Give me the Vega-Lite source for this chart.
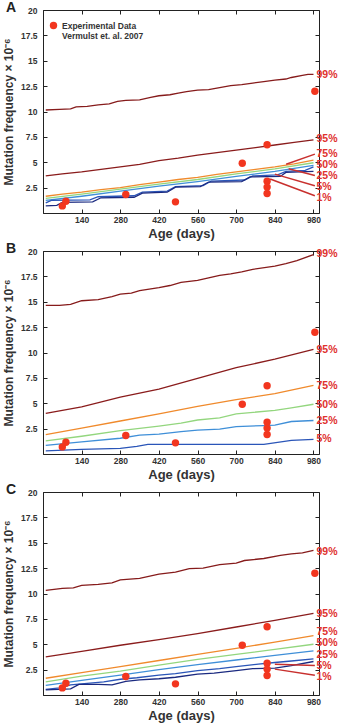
{
  "$schema": "https://vega.github.io/schema/vega-lite/v6.json",
  "background": "white",
  "padding": {"left": 1, "top": 0, "right": 0, "bottom": 0},
  "spacing": 0,
  "config": {
    "font": "Liberation Sans",
    "view": {"stroke": "#222", "strokeWidth": 1},
    "axis": {
      "grid": false,
      "labelFont": "Liberation Sans",
      "labelFontWeight": "bold",
      "labelFontSize": 8.5,
      "labelColor": "#333",
      "labelOverlap": false,
      "titleFont": "Liberation Sans",
      "titleFontWeight": "bold",
      "titleColor": "#333",
      "domainColor": "#222",
      "tickColor": "#222",
      "tickSize": -4
    },
    "axisX": {"labelPadding": 6, "titlePadding": 4},
    "axisY": {"labelPadding": 10, "titlePadding": 5},
    "legend": {"labelFont": "Liberation Sans"},
    "title": {"font": "Liberation Sans", "fontSize": 14, "fontWeight": "bold", "color": "#222"}
  },
  "datasets": {
    "points": [
      {"age": 70, "value": 0.7, "source": "Experimental Data"},
      {"age": 83, "value": 1.15, "source": "Experimental Data"},
      {"age": 300, "value": 1.82, "source": "Experimental Data"},
      {"age": 480, "value": 1.1, "source": "Experimental Data"},
      {"age": 722, "value": 4.9, "source": "Experimental Data"},
      {"age": 812, "value": 6.72, "source": "Experimental Data"},
      {"age": 812, "value": 3.12, "source": "Experimental Data"},
      {"age": 812, "value": 2.55, "source": "Experimental Data"},
      {"age": 812, "value": 1.92, "source": "Experimental Data"},
      {"age": 985, "value": 12.0, "source": "Experimental Data"}
    ],
    "linesA": [
      {"series": "99%", "age": 10, "value": 10.15}, {"series": "99%", "age": 60, "value": 10.2}, {"series": "99%", "age": 100, "value": 10.25}, {"series": "99%", "age": 120, "value": 10.45}, {"series": "99%", "age": 160, "value": 10.5}, {"series": "99%", "age": 200, "value": 10.65}, {"series": "99%", "age": 240, "value": 10.75}, {"series": "99%", "age": 270, "value": 11.0}, {"series": "99%", "age": 300, "value": 11.1}, {"series": "99%", "age": 350, "value": 11.15}, {"series": "99%", "age": 390, "value": 11.4}, {"series": "99%", "age": 420, "value": 11.55}, {"series": "99%", "age": 460, "value": 11.65}, {"series": "99%", "age": 490, "value": 11.8}, {"series": "99%", "age": 520, "value": 11.95}, {"series": "99%", "age": 560, "value": 12.1}, {"series": "99%", "age": 600, "value": 12.15}, {"series": "99%", "age": 640, "value": 12.35}, {"series": "99%", "age": 680, "value": 12.55}, {"series": "99%", "age": 720, "value": 12.65}, {"series": "99%", "age": 760, "value": 12.8}, {"series": "99%", "age": 800, "value": 12.95}, {"series": "99%", "age": 840, "value": 13.1}, {"series": "99%", "age": 880, "value": 13.2}, {"series": "99%", "age": 900, "value": 13.35}, {"series": "99%", "age": 940, "value": 13.55}, {"series": "99%", "age": 960, "value": 13.65}, {"series": "99%", "age": 980, "value": 13.65},
      {"series": "95%", "age": 10, "value": 3.65}, {"series": "95%", "age": 70, "value": 3.85}, {"series": "95%", "age": 140, "value": 4.05}, {"series": "95%", "age": 210, "value": 4.3}, {"series": "95%", "age": 280, "value": 4.55}, {"series": "95%", "age": 350, "value": 4.8}, {"series": "95%", "age": 420, "value": 5.15}, {"series": "95%", "age": 490, "value": 5.4}, {"series": "95%", "age": 560, "value": 5.7}, {"series": "95%", "age": 630, "value": 5.95}, {"series": "95%", "age": 700, "value": 6.2}, {"series": "95%", "age": 770, "value": 6.45}, {"series": "95%", "age": 840, "value": 6.7}, {"series": "95%", "age": 910, "value": 6.95}, {"series": "95%", "age": 980, "value": 7.2},
      {"series": "75%", "age": 10, "value": 1.65}, {"series": "75%", "age": 70, "value": 1.85}, {"series": "75%", "age": 140, "value": 2.05}, {"series": "75%", "age": 210, "value": 2.3}, {"series": "75%", "age": 280, "value": 2.5}, {"series": "75%", "age": 350, "value": 2.8}, {"series": "75%", "age": 420, "value": 3.05}, {"series": "75%", "age": 490, "value": 3.3}, {"series": "75%", "age": 560, "value": 3.5}, {"series": "75%", "age": 630, "value": 3.8}, {"series": "75%", "age": 700, "value": 4.05}, {"series": "75%", "age": 770, "value": 4.3}, {"series": "75%", "age": 840, "value": 4.55}, {"series": "75%", "age": 910, "value": 4.85}, {"series": "75%", "age": 980, "value": 5.2},
      {"series": "50%", "age": 10, "value": 1.45}, {"series": "50%", "age": 140, "value": 1.85}, {"series": "50%", "age": 280, "value": 2.35}, {"series": "50%", "age": 420, "value": 2.85}, {"series": "50%", "age": 560, "value": 3.3}, {"series": "50%", "age": 700, "value": 3.85}, {"series": "50%", "age": 840, "value": 4.35}, {"series": "50%", "age": 980, "value": 4.95},
      {"series": "25%", "age": 10, "value": 1.25}, {"series": "25%", "age": 140, "value": 1.65}, {"series": "25%", "age": 280, "value": 2.15}, {"series": "25%", "age": 420, "value": 2.65}, {"series": "25%", "age": 560, "value": 3.1}, {"series": "25%", "age": 700, "value": 3.6}, {"series": "25%", "age": 840, "value": 4.1}, {"series": "25%", "age": 980, "value": 4.7},
      {"series": "5%", "age": 10, "value": 1.0}, {"series": "5%", "age": 30, "value": 1.25}, {"series": "5%", "age": 170, "value": 1.3}, {"series": "5%", "age": 200, "value": 1.6}, {"series": "5%", "age": 330, "value": 1.7}, {"series": "5%", "age": 360, "value": 2.05}, {"series": "5%", "age": 450, "value": 2.15}, {"series": "5%", "age": 480, "value": 2.6}, {"series": "5%", "age": 580, "value": 2.7}, {"series": "5%", "age": 610, "value": 3.15}, {"series": "5%", "age": 730, "value": 3.25}, {"series": "5%", "age": 760, "value": 3.65}, {"series": "5%", "age": 850, "value": 3.75}, {"series": "5%", "age": 880, "value": 4.1}, {"series": "5%", "age": 950, "value": 4.2}, {"series": "5%", "age": 980, "value": 4.55},
      {"series": "1%", "age": 10, "value": 0.7}, {"series": "1%", "age": 50, "value": 0.75}, {"series": "1%", "age": 70, "value": 1.05}, {"series": "1%", "age": 180, "value": 1.1}, {"series": "1%", "age": 210, "value": 1.5}, {"series": "1%", "age": 330, "value": 1.55}, {"series": "1%", "age": 360, "value": 1.95}, {"series": "1%", "age": 450, "value": 2.05}, {"series": "1%", "age": 480, "value": 2.55}, {"series": "1%", "age": 570, "value": 2.6}, {"series": "1%", "age": 600, "value": 3.05}, {"series": "1%", "age": 720, "value": 3.1}, {"series": "1%", "age": 750, "value": 3.55}, {"series": "1%", "age": 860, "value": 3.6}, {"series": "1%", "age": 880, "value": 4.0}, {"series": "1%", "age": 980, "value": 4.1}
    ],
    "linesB": [
      {"series": "99%", "age": 10, "value": 14.65}, {"series": "99%", "age": 60, "value": 14.65}, {"series": "99%", "age": 100, "value": 14.75}, {"series": "99%", "age": 140, "value": 15.1}, {"series": "99%", "age": 200, "value": 15.2}, {"series": "99%", "age": 250, "value": 15.5}, {"series": "99%", "age": 280, "value": 15.75}, {"series": "99%", "age": 320, "value": 15.85}, {"series": "99%", "age": 350, "value": 16.1}, {"series": "99%", "age": 420, "value": 16.4}, {"series": "99%", "age": 460, "value": 16.6}, {"series": "99%", "age": 500, "value": 16.9}, {"series": "99%", "age": 560, "value": 17.1}, {"series": "99%", "age": 600, "value": 17.35}, {"series": "99%", "age": 640, "value": 17.6}, {"series": "99%", "age": 680, "value": 17.75}, {"series": "99%", "age": 720, "value": 17.95}, {"series": "99%", "age": 760, "value": 18.2}, {"series": "99%", "age": 840, "value": 18.5}, {"series": "99%", "age": 880, "value": 18.75}, {"series": "99%", "age": 920, "value": 19.05}, {"series": "99%", "age": 980, "value": 19.65},
      {"series": "95%", "age": 10, "value": 4.0}, {"series": "95%", "age": 140, "value": 4.65}, {"series": "95%", "age": 280, "value": 5.6}, {"series": "95%", "age": 420, "value": 6.4}, {"series": "95%", "age": 560, "value": 7.45}, {"series": "95%", "age": 700, "value": 8.5}, {"series": "95%", "age": 840, "value": 9.35}, {"series": "95%", "age": 980, "value": 10.3},
      {"series": "75%", "age": 10, "value": 1.9}, {"series": "75%", "age": 140, "value": 2.55}, {"series": "75%", "age": 280, "value": 3.25}, {"series": "75%", "age": 420, "value": 3.95}, {"series": "75%", "age": 560, "value": 4.7}, {"series": "75%", "age": 700, "value": 5.35}, {"series": "75%", "age": 840, "value": 5.95}, {"series": "75%", "age": 980, "value": 6.75},
      {"series": "50%", "age": 10, "value": 1.3}, {"series": "50%", "age": 140, "value": 1.75}, {"series": "50%", "age": 280, "value": 2.3}, {"series": "50%", "age": 420, "value": 2.75}, {"series": "50%", "age": 500, "value": 3.05}, {"series": "50%", "age": 560, "value": 3.35}, {"series": "50%", "age": 640, "value": 3.55}, {"series": "50%", "age": 700, "value": 3.95}, {"series": "50%", "age": 840, "value": 4.3}, {"series": "50%", "age": 900, "value": 4.55}, {"series": "50%", "age": 980, "value": 4.9},
      {"series": "25%", "age": 10, "value": 0.85}, {"series": "25%", "age": 140, "value": 1.2}, {"series": "25%", "age": 280, "value": 1.55}, {"series": "25%", "age": 350, "value": 1.85}, {"series": "25%", "age": 420, "value": 1.95}, {"series": "25%", "age": 500, "value": 2.2}, {"series": "25%", "age": 560, "value": 2.35}, {"series": "25%", "age": 640, "value": 2.45}, {"series": "25%", "age": 700, "value": 2.7}, {"series": "25%", "age": 800, "value": 2.8}, {"series": "25%", "age": 840, "value": 2.85}, {"series": "25%", "age": 900, "value": 3.2}, {"series": "25%", "age": 980, "value": 3.3},
      {"series": "5%", "age": 10, "value": 0.3}, {"series": "5%", "age": 140, "value": 0.45}, {"series": "5%", "age": 280, "value": 0.55}, {"series": "5%", "age": 340, "value": 0.75}, {"series": "5%", "age": 380, "value": 0.95}, {"series": "5%", "age": 800, "value": 0.95}, {"series": "5%", "age": 900, "value": 1.35}, {"series": "5%", "age": 980, "value": 1.45}
    ],
    "linesC": [
      {"series": "99%", "age": 10, "value": 10.3}, {"series": "99%", "age": 70, "value": 10.5}, {"series": "99%", "age": 110, "value": 10.55}, {"series": "99%", "age": 140, "value": 10.8}, {"series": "99%", "age": 200, "value": 10.9}, {"series": "99%", "age": 250, "value": 11.05}, {"series": "99%", "age": 280, "value": 11.35}, {"series": "99%", "age": 350, "value": 11.5}, {"series": "99%", "age": 420, "value": 11.9}, {"series": "99%", "age": 480, "value": 12.1}, {"series": "99%", "age": 530, "value": 12.45}, {"series": "99%", "age": 580, "value": 12.5}, {"series": "99%", "age": 640, "value": 12.85}, {"series": "99%", "age": 700, "value": 13.0}, {"series": "99%", "age": 730, "value": 13.25}, {"series": "99%", "age": 800, "value": 13.45}, {"series": "99%", "age": 860, "value": 13.75}, {"series": "99%", "age": 900, "value": 13.9}, {"series": "99%", "age": 940, "value": 14.0}, {"series": "99%", "age": 980, "value": 14.25},
      {"series": "95%", "age": 10, "value": 3.75}, {"series": "95%", "age": 140, "value": 4.3}, {"series": "95%", "age": 280, "value": 4.9}, {"series": "95%", "age": 420, "value": 5.45}, {"series": "95%", "age": 560, "value": 6.05}, {"series": "95%", "age": 700, "value": 6.7}, {"series": "95%", "age": 840, "value": 7.35}, {"series": "95%", "age": 980, "value": 8.05},
      {"series": "75%", "age": 10, "value": 1.65}, {"series": "75%", "age": 140, "value": 2.2}, {"series": "75%", "age": 280, "value": 2.8}, {"series": "75%", "age": 420, "value": 3.4}, {"series": "75%", "age": 560, "value": 4.0}, {"series": "75%", "age": 700, "value": 4.6}, {"series": "75%", "age": 840, "value": 5.2}, {"series": "75%", "age": 980, "value": 5.85},
      {"series": "50%", "age": 10, "value": 1.3}, {"series": "50%", "age": 140, "value": 1.85}, {"series": "50%", "age": 280, "value": 2.35}, {"series": "50%", "age": 420, "value": 2.95}, {"series": "50%", "age": 560, "value": 3.5}, {"series": "50%", "age": 700, "value": 4.0}, {"series": "50%", "age": 840, "value": 4.5}, {"series": "50%", "age": 980, "value": 5.0},
      {"series": "25%", "age": 10, "value": 0.95}, {"series": "25%", "age": 140, "value": 1.45}, {"series": "25%", "age": 280, "value": 1.95}, {"series": "25%", "age": 420, "value": 2.5}, {"series": "25%", "age": 560, "value": 3.0}, {"series": "25%", "age": 700, "value": 3.45}, {"series": "25%", "age": 840, "value": 3.9}, {"series": "25%", "age": 980, "value": 4.35},
      {"series": "5%", "age": 10, "value": 0.55}, {"series": "5%", "age": 60, "value": 0.7}, {"series": "5%", "age": 100, "value": 1.0}, {"series": "5%", "age": 140, "value": 1.1}, {"series": "5%", "age": 220, "value": 1.3}, {"series": "5%", "age": 280, "value": 1.55}, {"series": "5%", "age": 340, "value": 1.7}, {"series": "5%", "age": 420, "value": 1.95}, {"series": "5%", "age": 480, "value": 2.1}, {"series": "5%", "age": 560, "value": 2.4}, {"series": "5%", "age": 640, "value": 2.6}, {"series": "5%", "age": 700, "value": 2.8}, {"series": "5%", "age": 780, "value": 3.05}, {"series": "5%", "age": 840, "value": 3.2}, {"series": "5%", "age": 900, "value": 3.35}, {"series": "5%", "age": 980, "value": 3.55},
      {"series": "1%", "age": 10, "value": 0.5}, {"series": "1%", "age": 100, "value": 0.6}, {"series": "1%", "age": 130, "value": 1.05}, {"series": "1%", "age": 200, "value": 1.05}, {"series": "1%", "age": 250, "value": 1.0}, {"series": "1%", "age": 300, "value": 1.35}, {"series": "1%", "age": 350, "value": 1.5}, {"series": "1%", "age": 420, "value": 1.6}, {"series": "1%", "age": 480, "value": 1.75}, {"series": "1%", "age": 560, "value": 2.05}, {"series": "1%", "age": 620, "value": 2.15}, {"series": "1%", "age": 700, "value": 2.4}, {"series": "1%", "age": 760, "value": 2.6}, {"series": "1%", "age": 840, "value": 2.65}, {"series": "1%", "age": 900, "value": 2.9}, {"series": "1%", "age": 980, "value": 3.3}
    ],
    "labelsA": [
      {"series": "99%", "age": 980, "value": 13.6}, {"series": "95%", "age": 980, "value": 7.25}, {"series": "75%", "age": 980, "value": 5.78}, {"series": "50%", "age": 980, "value": 4.68}, {"series": "25%", "age": 980, "value": 3.6}, {"series": "5%", "age": 980, "value": 2.53}, {"series": "1%", "age": 980, "value": 1.48}
    ],
    "labelsB": [
      {"series": "99%", "age": 980, "value": 19.68}, {"series": "95%", "age": 980, "value": 10.29}, {"series": "75%", "age": 980, "value": 6.7}, {"series": "50%", "age": 980, "value": 4.84}, {"series": "25%", "age": 980, "value": 3.3}, {"series": "5%", "age": 980, "value": 1.47}
    ],
    "labelsC": [
      {"series": "99%", "age": 980, "value": 14.07}, {"series": "95%", "age": 980, "value": 8.0}, {"series": "75%", "age": 980, "value": 6.22}, {"series": "50%", "age": 980, "value": 5.12}, {"series": "25%", "age": 980, "value": 3.98}, {"series": "5%", "age": 980, "value": 2.9}, {"series": "1%", "age": 980, "value": 1.82}
    ],
    "leadersA": [
      {"age": 881, "value": 4.8, "age2": 985, "value2": 5.8},
      {"age": 890, "value": 4.35, "age2": 985, "value2": 3.7},
      {"age": 840, "value": 3.83, "age2": 985, "value2": 2.68},
      {"age": 823, "value": 3.35, "age2": 985, "value2": 1.7}
    ],
    "leadersC": [
      {"age": 840, "value": 3.03, "age2": 985, "value2": 2.9},
      {"age": 840, "value": 2.55, "age2": 985, "value2": 1.95}
    ]
  },
  "vconcat": [
    {
      "width": 276, "height": 203,
      "title": {"text": "A", "anchor": "start", "frame": "group", "dx": -37, "offset": -9},
      "resolve": {"axis": {"x": "independent", "y": "independent"}},
      "layer": [
        {
          "data": {"name": "linesA"},
          "mark": {"type": "line", "clip": true, "strokeWidth": 1.3},
          "encoding": {
            "x": {"field": "age", "type": "quantitative", "scale": {"domain": [10, 980]}, "axis": {"values": [140, 280, 420, 560, 700, 840, 980], "title": "Age (days)", "titleFontSize": 13}},
            "y": {"field": "value", "type": "quantitative", "scale": {"domain": [0.5, 20]}, "axis": {"values": [2.5, 5, 7.5, 10, 12.5, 15, 17.5, 20], "labelExpr": "toString(datum.value)", "title": "Mutation frequency × 10⁻⁶", "titleFontSize": 12}},
            "stroke": {"field": "series", "type": "nominal", "scale": {"domain": ["99%", "95%", "75%", "50%", "25%", "5%", "1%"], "range": ["#861b1b", "#8a1c1c", "#f08a2c", "#93d67e", "#3f8fd8", "#2a55b8", "#1b2a80"]}, "legend": null}
          }
        },
        {
          "data": {"name": "points"},
          "mark": {"type": "point", "filled": true, "size": 55, "opacity": 1},
          "encoding": {
            "x": {"field": "age", "type": "quantitative", "axis": {"orient": "top", "values": [140, 280, 420, 560, 700, 840, 980], "labels": false, "domain": false, "title": null, "minExtent": 0, "maxExtent": 0}},
            "y": {"field": "value", "type": "quantitative", "axis": {"orient": "right", "values": [2.5, 5, 7.5, 10, 12.5, 15, 17.5, 20], "labels": false, "domain": false, "title": null, "minExtent": 0, "maxExtent": 0}},
            "fill": {"field": "source", "type": "nominal", "scale": {"range": ["#f2361f"]}, "legend": {"orient": "none", "legendX": 6, "legendY": 11, "title": null, "labelExpr": "['Experimental Data', 'Vermulst et. al. 2007']", "symbolType": "circle", "symbolSize": 55, "labelFontSize": 8.5, "labelFontWeight": "bold", "labelColor": "#333"}}
          }
        },
        {
          "data": {"name": "labelsA"},
          "mark": {"type": "text", "align": "left", "baseline": "middle", "dx": 3, "fontSize": 10.5, "fontWeight": "bold", "color": "#e0322f"},
          "encoding": {
            "x": {"field": "age", "type": "quantitative", "axis": null},
            "y": {"field": "value", "type": "quantitative", "axis": null},
            "text": {"field": "series"}
          }
        },
        {
          "data": {"name": "leadersA"},
          "mark": {"type": "rule", "color": "#c8302e", "strokeWidth": 1.5},
          "encoding": {
            "x": {"field": "age", "type": "quantitative", "axis": null},
            "y": {"field": "value", "type": "quantitative", "axis": null},
            "x2": {"field": "age2"},
            "y2": {"field": "value2"}
          }
        }
      ]
    },
    {
      "width": 276, "height": 203,
      "title": {"text": "B", "anchor": "start", "frame": "group", "dx": -37, "offset": -9},
      "resolve": {"axis": {"x": "independent", "y": "independent"}},
      "layer": [
        {
          "data": {"name": "linesB"},
          "mark": {"type": "line", "clip": true, "strokeWidth": 1.3},
          "encoding": {
            "x": {"field": "age", "type": "quantitative", "scale": {"domain": [10, 980]}, "axis": {"values": [140, 280, 420, 560, 700, 840, 980], "title": "Age (days)", "titleFontSize": 13}},
            "y": {"field": "value", "type": "quantitative", "scale": {"domain": [0.5, 20]}, "axis": {"values": [2.5, 5, 7.5, 10, 12.5, 15, 17.5, 20], "labelExpr": "toString(datum.value)", "title": "Mutation frequency × 10⁻⁶", "titleFontSize": 12}},
            "stroke": {"field": "series", "type": "nominal", "scale": {"domain": ["99%", "95%", "75%", "50%", "25%", "5%"], "range": ["#861b1b", "#8a1c1c", "#f08a2c", "#93d67e", "#3f8fd8", "#1b2a80"]}, "legend": null}
          }
        },
        {
          "data": {"name": "points"},
          "mark": {"type": "point", "filled": true, "size": 55, "opacity": 1},
          "encoding": {
            "x": {"field": "age", "type": "quantitative", "axis": {"orient": "top", "values": [140, 280, 420, 560, 700, 840, 980], "labels": false, "domain": false, "title": null, "minExtent": 0, "maxExtent": 0}},
            "y": {"field": "value", "type": "quantitative", "axis": {"orient": "right", "values": [2.5, 5, 7.5, 10, 12.5, 15, 17.5, 20], "labels": false, "domain": false, "title": null, "minExtent": 0, "maxExtent": 0}},
            "fill": {"field": "source", "type": "nominal", "scale": {"range": ["#f2361f"]}, "legend": {"orient": "none", "legendX": 6, "legendY": 11, "title": null, "labelExpr": "['Experimental Data', 'Vermulst et. al. 2007']", "symbolType": "circle", "symbolSize": 55, "labelFontSize": 8.5, "labelFontWeight": "bold", "labelColor": "#333"}}
          }
        },
        {
          "data": {"name": "labelsB"},
          "mark": {"type": "text", "align": "left", "baseline": "middle", "dx": 3, "fontSize": 10.5, "fontWeight": "bold", "color": "#e0322f"},
          "encoding": {
            "x": {"field": "age", "type": "quantitative", "axis": null},
            "y": {"field": "value", "type": "quantitative", "axis": null},
            "text": {"field": "series"}
          }
        }
      ]
    },
    {
      "width": 276, "height": 203,
      "title": {"text": "C", "anchor": "start", "frame": "group", "dx": -37, "offset": -9},
      "resolve": {"axis": {"x": "independent", "y": "independent"}},
      "layer": [
        {
          "data": {"name": "linesC"},
          "mark": {"type": "line", "clip": true, "strokeWidth": 1.3},
          "encoding": {
            "x": {"field": "age", "type": "quantitative", "scale": {"domain": [10, 980]}, "axis": {"values": [140, 280, 420, 560, 700, 840, 980], "title": "Age (days)", "titleFontSize": 13}},
            "y": {"field": "value", "type": "quantitative", "scale": {"domain": [0.5, 20]}, "axis": {"values": [2.5, 5, 7.5, 10, 12.5, 15, 17.5, 20], "labelExpr": "toString(datum.value)", "title": "Mutation frequency × 10⁻⁶", "titleFontSize": 12}},
            "stroke": {"field": "series", "type": "nominal", "scale": {"domain": ["99%", "95%", "75%", "50%", "25%", "5%", "1%"], "range": ["#861b1b", "#8a1c1c", "#f08a2c", "#93d67e", "#3f8fd8", "#1b2a80", "#1b2a80"]}, "legend": null}
          }
        },
        {
          "data": {"name": "points"},
          "mark": {"type": "point", "filled": true, "size": 55, "opacity": 1},
          "encoding": {
            "x": {"field": "age", "type": "quantitative", "axis": {"orient": "top", "values": [140, 280, 420, 560, 700, 840, 980], "labels": false, "domain": false, "title": null, "minExtent": 0, "maxExtent": 0}},
            "y": {"field": "value", "type": "quantitative", "axis": {"orient": "right", "values": [2.5, 5, 7.5, 10, 12.5, 15, 17.5, 20], "labels": false, "domain": false, "title": null, "minExtent": 0, "maxExtent": 0}},
            "fill": {"field": "source", "type": "nominal", "scale": {"range": ["#f2361f"]}, "legend": {"orient": "none", "legendX": 6, "legendY": 11, "title": null, "labelExpr": "['Experimental Data', 'Vermulst et. al. 2007']", "symbolType": "circle", "symbolSize": 55, "labelFontSize": 8.5, "labelFontWeight": "bold", "labelColor": "#333"}}
          }
        },
        {
          "data": {"name": "labelsC"},
          "mark": {"type": "text", "align": "left", "baseline": "middle", "dx": 3, "fontSize": 10.5, "fontWeight": "bold", "color": "#e0322f"},
          "encoding": {
            "x": {"field": "age", "type": "quantitative", "axis": null},
            "y": {"field": "value", "type": "quantitative", "axis": null},
            "text": {"field": "series"}
          }
        },
        {
          "data": {"name": "leadersC"},
          "mark": {"type": "rule", "color": "#c8302e", "strokeWidth": 1.5},
          "encoding": {
            "x": {"field": "age", "type": "quantitative", "axis": null},
            "y": {"field": "value", "type": "quantitative", "axis": null},
            "x2": {"field": "age2"},
            "y2": {"field": "value2"}
          }
        }
      ]
    }
  ]
}
